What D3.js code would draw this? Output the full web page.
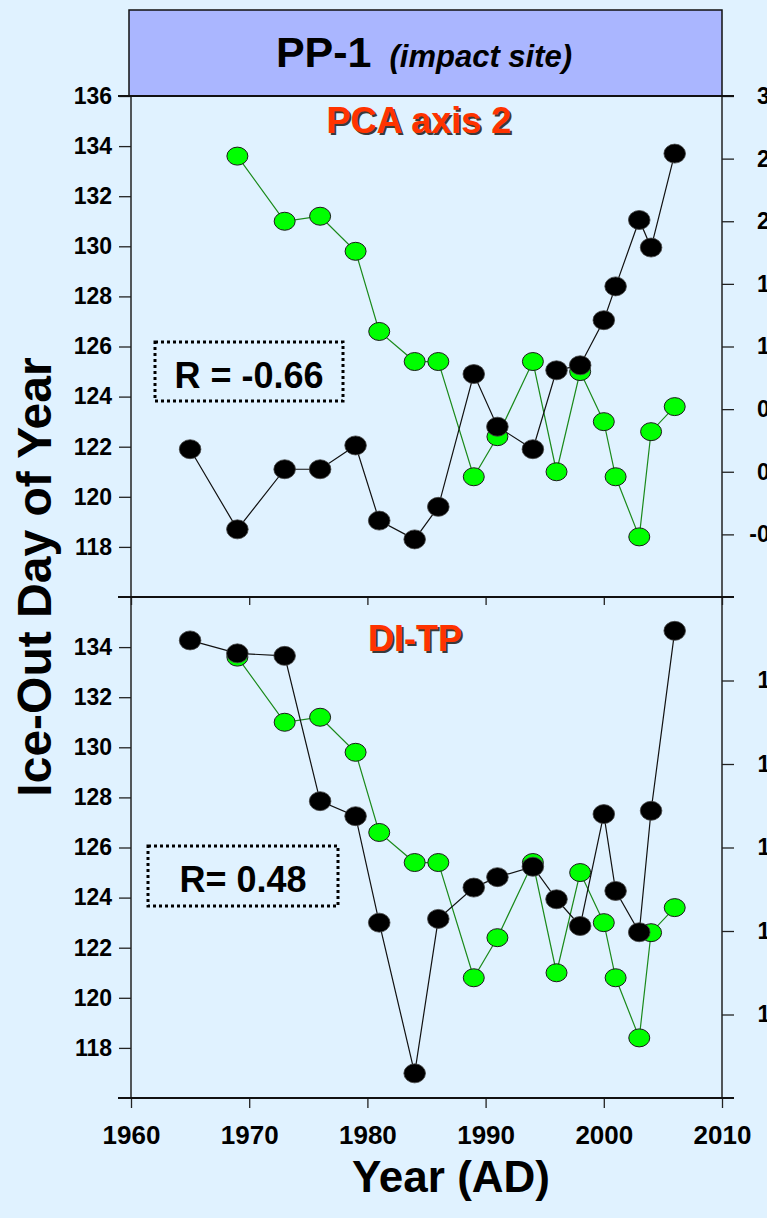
<!DOCTYPE html>
<html>
<head>
<meta charset="utf-8">
<script src="https://cdn.jsdelivr.net/npm/d3@7/dist/d3.min.js"></script>
<style>
  html, body { margin: 0; padding: 0; background: #E0F2FF; overflow: hidden; }
  svg { display: block; font-family: "Liberation Sans", Arial, sans-serif; }
</style>
</head>
<body>
<svg id="chart" width="767" height="1218"></svg>
<script>
// Ice-out day of year (shared by both panels)
const iceYears = [1969, 1973, 1976, 1979, 1981, 1984, 1986, 1989, 1991, 1994, 1996, 1998, 2000, 2001, 2003, 2004, 2006];
const iceOut   = [133.6, 131.0, 131.2, 129.8, 126.6, 125.4, 125.4, 120.8, 122.4, 125.4, 121.0, 125.0, 123.0, 120.8, 118.4, 122.6, 123.6];

// Sediment proxies
const proxyYears = [1965, 1969, 1973, 1976, 1979, 1981, 1984, 1986, 1989, 1991, 1994, 1996, 1998, 2000, 2001, 2003, 2004, 2006];
const pcaAxis2   = [0.18, -0.46, 0.02, 0.02, 0.21, -0.39, -0.54, -0.28, 0.78, 0.36, 0.18, 0.81, 0.85, 1.21, 1.48, 2.01, 1.79, 2.54];
const diTP       = [18.96, 18.65, 18.59, 15.11, 14.75, 12.2, 8.59, 12.29, 13.04, 13.29, 13.54, 12.76, 12.12, 14.8, 12.96, 11.97, 14.88, 19.19];

// Axis ticks
const yearTicks = [1960, 1970, 1980, 1990, 2000, 2010];
const dayTicksTop = [118, 120, 122, 124, 126, 128, 130, 132, 134, 136];
const dayTicksBottom = [118, 120, 122, 124, 126, 128, 130, 132, 134];
const pcaTicks = [-0.5, 0, 0.5, 1, 1.5, 2, 2.5, 3];
const tpTicks = [10, 12, 14, 16, 18];

// plain hyphen for negative numbers
const locale = d3.formatLocale({ decimal: ".", thousands: ",", grouping: [3], currency: ["", ""], minus: "-" });

const panels = [
  { label: "PCA axis 2", labelX: 419, labelY: 133, rText: "R = -0.66", values: pcaAxis2,
    rDomain: [-1, 3], rTicks: pcaTicks, rFmt: locale.format(".1f"), rLabelX: 67, dayTicks: dayTicksTop,
    box: [155, 342, 188, 59] },
  { label: "DI-TP", labelX: 415, labelY: 651, rText: "R= 0.48", values: diTP,
    rDomain: [8, 20], rTicks: tpTicks, rFmt: locale.format("d"), rLabelX: 61, dayTicks: dayTicksBottom,
    box: [148, 846, 190, 60] }
];

const svg = d3.select("#chart");
const W = 767;
const plotLeft = 131, plotRight = 722, plotTop = 96, panelH = 501;
const FONT = "'Liberation Sans', Arial, sans-serif";

const x = d3.scaleLinear().domain([1960, 2010]).range([plotLeft, plotRight]);

svg.append("rect").attr("width", W).attr("height", 1218).attr("fill", "#E0F2FF");

// Title box
svg.append("rect")
  .attr("x", 129).attr("y", 10).attr("width", 593).attr("height", 86)
  .attr("fill", "#AAB6FF").attr("stroke", "#111").attr("stroke-width", 1.5);
const title = svg.append("text")
  .attr("x", 424).attr("y", 67).attr("text-anchor", "middle").attr("fill", "#000");
title.append("tspan").attr("font-size", 43).attr("font-weight", "bold").text("PP-1");
title.append("tspan").attr("font-size", 31).attr("font-weight", "bold").attr("font-style", "italic")
  .attr("dx", 18).text("(impact site)");

function styleAxis(g) {
  g.select(".domain").remove();
  g.selectAll(".tick line").attr("stroke", "#222").attr("stroke-width", 1.3);
  g.selectAll(".tick text").attr("font-weight", "bold").attr("fill", "#000").attr("font-family", FONT);
}

panels.forEach((p, i) => {
  const y0 = plotTop + i * panelH, y1 = y0 + panelH;
  const yDay = d3.scaleLinear().domain([116, 136]).range([y1, y0]);
  const yR = d3.scaleLinear().domain(p.rDomain).range([y1, y0]);
  const g = svg.append("g");

  // left axis
  g.append("g").attr("transform", `translate(${plotLeft},0)`)
    .call(d3.axisLeft(yDay).tickValues(p.dayTicks).tickSize(12).tickPadding(7).tickFormat(d3.format("d")))
    .call(styleAxis)
    .call(a => a.selectAll(".tick text").attr("font-size", 23));

  // right axis
  g.append("g").attr("transform", `translate(${plotRight},0)`)
    .call(d3.axisRight(yR).tickValues(p.rTicks).tickSize(12).tickFormat(p.rFmt))
    .call(styleAxis)
    .call(a => a.selectAll(".tick text").attr("font-size", 23).attr("text-anchor", "end")
      .attr("x", p.rLabelX));

  // x ticks on panel bottom edge
  g.append("g").attr("transform", `translate(0,${y1})`)
    .call(d3.axisBottom(x).tickValues(yearTicks).tickSize(i === 1 ? 10 : 8).tickPadding(18).tickFormat(d3.format("d")))
    .call(styleAxis)
    .call(a => a.selectAll(".tick text").attr("font-size", 26).style("display", i === 1 ? null : "none"));

  // frame
  g.append("line").attr("x1", plotLeft).attr("x2", plotLeft).attr("y1", y0).attr("y2", y1).attr("stroke", "#222").attr("stroke-width", 1.5);
  g.append("line").attr("x1", plotRight).attr("x2", plotRight).attr("y1", y0).attr("y2", y1).attr("stroke", "#222").attr("stroke-width", 1.5);
  g.append("line").attr("x1", plotLeft - 13).attr("x2", plotRight + 12).attr("y1", y0).attr("y2", y0).attr("stroke", "#111").attr("stroke-width", 2);
  g.append("line").attr("x1", plotLeft - 13).attr("x2", plotRight + 12).attr("y1", y1).attr("y2", y1).attr("stroke", "#111").attr("stroke-width", 2);

  // panel label with drop shadow
  g.append("text").attr("x", p.labelX + 2).attr("y", p.labelY + 2).attr("text-anchor", "middle")
    .attr("font-size", 36).attr("font-weight", "bold").attr("fill", "#3a3a3a").text(p.label);
  g.append("text").attr("x", p.labelX).attr("y", p.labelY).attr("text-anchor", "middle")
    .attr("font-size", 36).attr("font-weight", "bold").attr("fill", "#FF3300").text(p.label);

  // correlation box
  const [bx, by, bw, bh] = p.box;
  g.append("rect").attr("x", bx).attr("y", by).attr("width", bw).attr("height", bh)
    .attr("fill", "none").attr("stroke", "#000").attr("stroke-width", 3).attr("stroke-dasharray", "3,3");
  g.append("text").attr("x", bx + bw / 2).attr("y", by + 46).attr("text-anchor", "middle")
    .attr("font-size", 36).attr("font-weight", "bold").attr("fill", "#000").text(p.rText);

  // ice-out series (green)
  const ice = iceYears.map((yr, k) => [yr, iceOut[k]]);
  g.append("path").datum(ice)
    .attr("d", d3.line().x(d => x(d[0])).y(d => yDay(d[1])))
    .attr("fill", "none").attr("stroke", "#1a8a1a").attr("stroke-width", 1.2);
  g.selectAll(".ice").data(ice).join("ellipse").attr("class", "ice")
    .attr("cx", d => x(d[0])).attr("cy", d => yDay(d[1])).attr("rx", 10.5).attr("ry", 9)
    .attr("fill", "#00FF00").attr("stroke", "#1a1a1a").attr("stroke-width", 1);

  // proxy series (black)
  const prox = proxyYears.map((yr, k) => [yr, p.values[k]]);
  g.append("path").datum(prox)
    .attr("d", d3.line().x(d => x(d[0])).y(d => yR(d[1])))
    .attr("fill", "none").attr("stroke", "#111").attr("stroke-width", 1.2);
  g.selectAll(".prox").data(prox).join("ellipse").attr("class", "prox")
    .attr("cx", d => x(d[0])).attr("cy", d => yR(d[1])).attr("rx", 10.8).attr("ry", 9.5)
    .attr("fill", "#000").attr("stroke", "#444").attr("stroke-width", 0.8);
});

// axis titles
svg.append("text").attr("x", 451).attr("y", 1192).attr("text-anchor", "middle")
  .attr("font-size", 44).attr("font-weight", "bold").attr("fill", "#000").text("Year (AD)");
svg.append("text").attr("transform", "translate(51,577) rotate(-90)").attr("text-anchor", "middle")
  .attr("font-size", 48).attr("font-weight", "bold").attr("fill", "#000").text("Ice-Out Day of Year");
</script>
</body>
</html>
